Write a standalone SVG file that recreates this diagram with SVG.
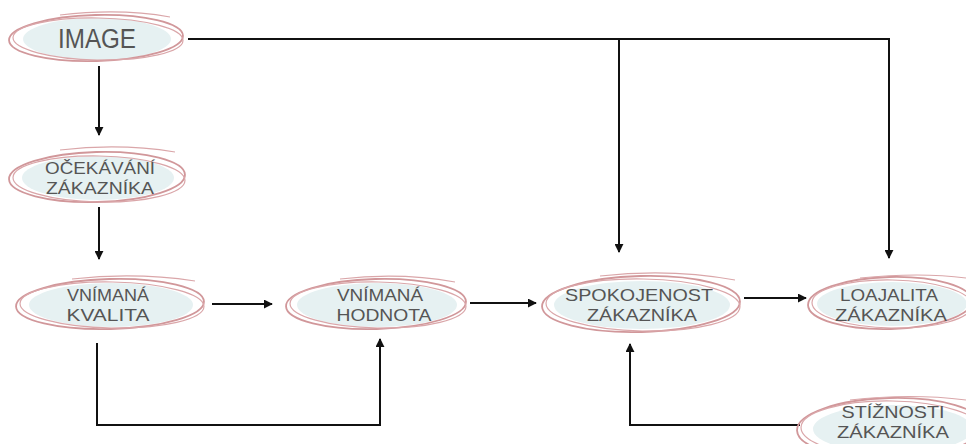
<svg xmlns="http://www.w3.org/2000/svg" width="966" height="444" viewBox="0 0 966 444">
<style>
.bg{fill:#ffffff}
.fillE{fill:#e6f1f2;stroke:none}
.sk{fill:none;stroke:#d1979a;stroke-width:1.8}
.sk2{fill:none;stroke:#daa6a9;stroke-width:1.2}
.lbl{font-family:"Liberation Sans","Open Sans",sans-serif;font-weight:400;fill:#555555;text-anchor:middle}
.big{font-size:27px}
.sm{font-size:17px}
.con{fill:none;stroke:#111111;stroke-width:2}
</style>
<defs>
<marker id="ah" viewBox="0 0 10 10" refX="9" refY="5" markerWidth="4.5" markerHeight="4.5" orient="auto" markerUnits="strokeWidth">
<path d="M0,0 L10,5 L0,10 z" fill="#111111"/>
</marker>
</defs>
<rect class="bg" x="0" y="0" width="966" height="444"/>

<g id="connectors">
<path class="con" d="M188,39 H889 V258" marker-end="url(#ah)"/>
<path class="con" d="M619,39 V252" marker-end="url(#ah)"/>
<path class="con" d="M99,66 V135" marker-end="url(#ah)"/>
<path class="con" d="M99,207 V259" marker-end="url(#ah)"/>
<path class="con" d="M212,304 H272" marker-end="url(#ah)"/>
<path class="con" d="M470,303 H536" marker-end="url(#ah)"/>
<path class="con" d="M744,298 H806" marker-end="url(#ah)"/>
<path class="con" d="M97,343 V425 H380 V339" marker-end="url(#ah)"/>
<path class="con" d="M800,425 H630 V344" marker-end="url(#ah)"/>
</g>

<g id="image">
<ellipse class="fillE" cx="97" cy="39" rx="74" ry="21"/>
<ellipse class="sk" cx="96" cy="38" rx="87" ry="23" transform="rotate(-1.5 96 38)"/>
<ellipse class="sk2" cx="98" cy="39" rx="85" ry="21" transform="rotate(1 98 39)"/>
<path class="sk2" d="M60,15 Q120,8 170,17"/>
<text class="lbl big" x="97" y="48" textLength="78" lengthAdjust="spacingAndGlyphs">IMAGE</text>
</g>

<g id="ocekavani">
<ellipse class="fillE" cx="98" cy="178" rx="76" ry="22"/>
<ellipse class="sk" cx="97" cy="177" rx="88" ry="25" transform="rotate(-1.5 97 177)"/>
<ellipse class="sk2" cx="99" cy="179" rx="86" ry="23" transform="rotate(1 99 179)"/>
<path class="sk2" d="M60,150 Q120,143 175,152"/>
<text class="lbl sm" x="100" y="174" textLength="110" lengthAdjust="spacingAndGlyphs">OČEKÁVÁNÍ</text>
<text class="lbl sm" x="100" y="194" textLength="108" lengthAdjust="spacingAndGlyphs">ZÁKAZNÍKA</text>
</g>

<g id="kvalita">
<ellipse class="fillE" cx="111" cy="305" rx="82" ry="22"/>
<ellipse class="sk" cx="110" cy="304" rx="94" ry="25" transform="rotate(-1.5 110 304)"/>
<ellipse class="sk2" cx="112" cy="305" rx="92" ry="23" transform="rotate(1 112 305)"/>
<path class="sk2" d="M72,279 Q135,272 195,281"/>
<text class="lbl sm" x="108" y="301" textLength="82" lengthAdjust="spacingAndGlyphs">VNÍMANÁ</text>
<text class="lbl sm" x="108" y="321" textLength="83" lengthAdjust="spacingAndGlyphs">KVALITA</text>
</g>

<g id="hodnota">
<ellipse class="fillE" cx="377" cy="305" rx="80" ry="22"/>
<ellipse class="sk" cx="376" cy="304" rx="90" ry="25" transform="rotate(-1.5 376 304)"/>
<ellipse class="sk2" cx="378" cy="305" rx="88" ry="23" transform="rotate(1 378 305)"/>
<path class="sk2" d="M340,279 Q400,272 455,282"/>
<text class="lbl sm" x="380" y="301" textLength="86" lengthAdjust="spacingAndGlyphs">VNÍMANÁ</text>
<text class="lbl sm" x="384" y="321" textLength="95" lengthAdjust="spacingAndGlyphs">HODNOTA</text>
</g>

<g id="spokojenost">
<ellipse class="fillE" cx="642" cy="305" rx="88" ry="24"/>
<ellipse class="sk" cx="641" cy="304" rx="99" ry="28" transform="rotate(-1.5 641 304)"/>
<ellipse class="sk2" cx="643" cy="305" rx="97" ry="26" transform="rotate(1 643 305)"/>
<path class="sk2" d="M600,276 Q670,268 735,280"/>
<text class="lbl sm" x="639" y="301" textLength="148" lengthAdjust="spacingAndGlyphs">SPOKOJENOST</text>
<text class="lbl sm" x="642" y="321" textLength="110" lengthAdjust="spacingAndGlyphs">ZÁKAZNÍKA</text>
</g>

<g id="loajalita">
<ellipse class="fillE" cx="892" cy="304" rx="75" ry="22"/>
<ellipse class="sk" cx="890" cy="303" rx="82" ry="26" transform="rotate(-1.5 890 303)"/>
<ellipse class="sk2" cx="892" cy="304" rx="80" ry="24" transform="rotate(1 892 304)"/>
<path class="sk2" d="M860,278 Q920,272 966,278"/>
<text class="lbl sm" x="889" y="301" textLength="98" lengthAdjust="spacingAndGlyphs">LOAJALITA</text>
<text class="lbl sm" x="891" y="321" textLength="112" lengthAdjust="spacingAndGlyphs">ZÁKAZNÍKA</text>
</g>

<g id="stiznosti">
<ellipse class="fillE" cx="893" cy="429" rx="80" ry="24"/>
<ellipse class="sk" cx="890" cy="428" rx="93" ry="30" transform="rotate(-1.5 890 428)"/>
<ellipse class="sk2" cx="892" cy="429" rx="91" ry="28" transform="rotate(1 892 429)"/>
<path class="sk2" d="M850,400 Q910,393 966,400"/>
<text class="lbl sm" x="893" y="418" textLength="103" lengthAdjust="spacingAndGlyphs">STÍŽNOSTI</text>
<text class="lbl sm" x="893" y="438" textLength="112" lengthAdjust="spacingAndGlyphs">ZÁKAZNÍKA</text>
</g>
</svg>
